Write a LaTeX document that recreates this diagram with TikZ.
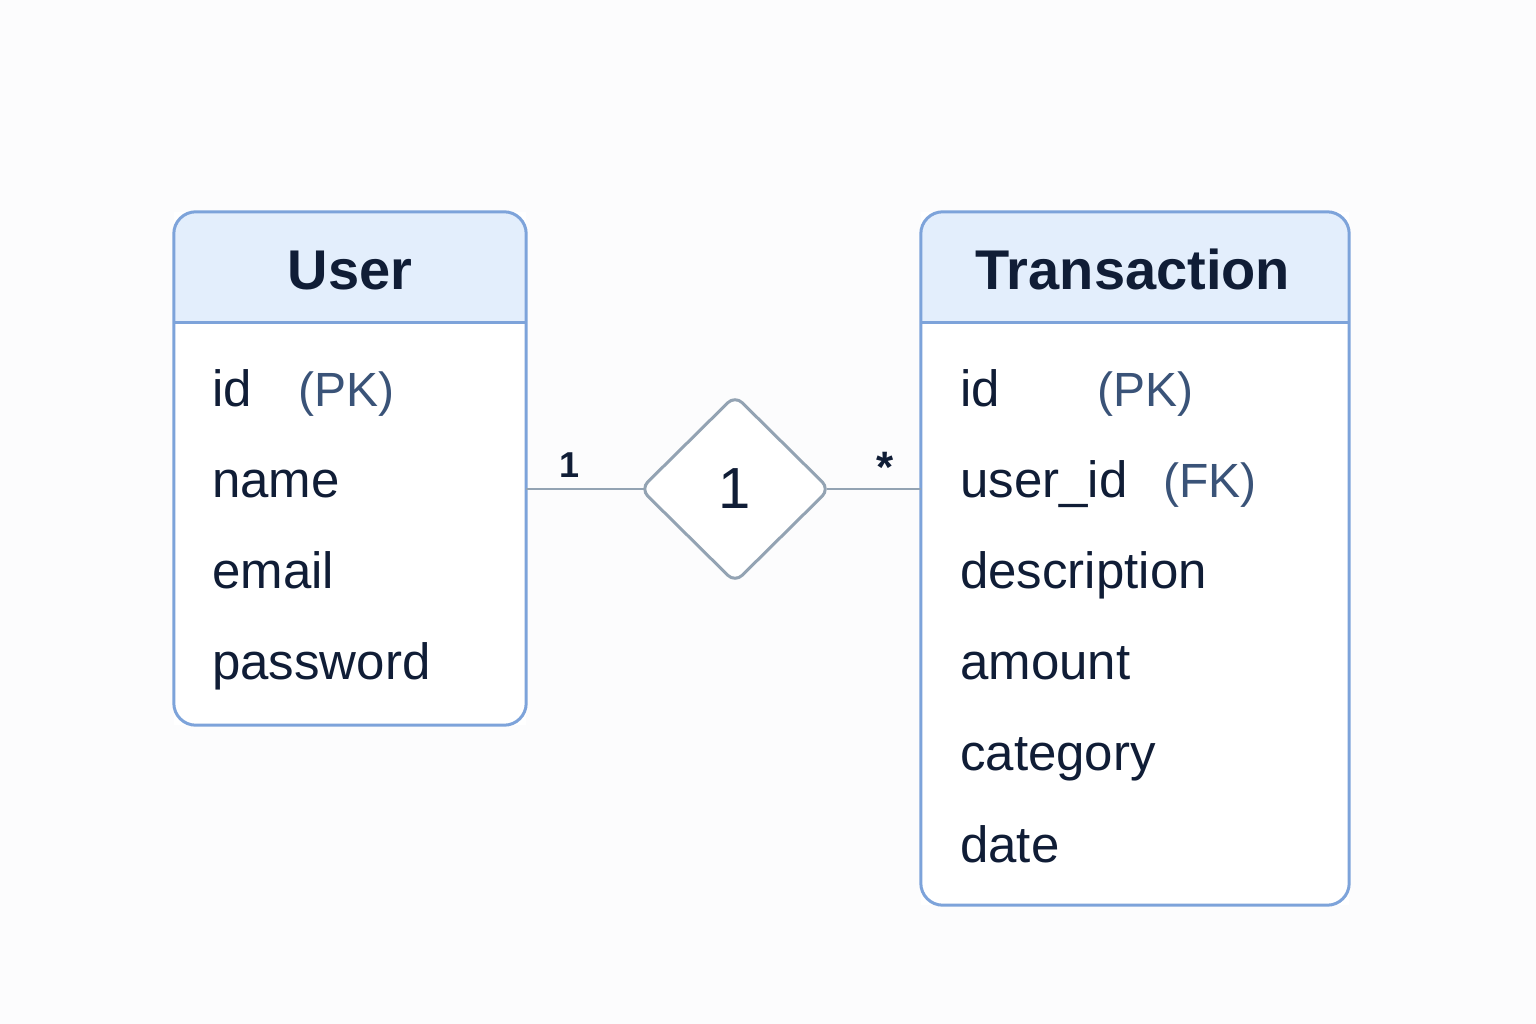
\documentclass[tikz,border=0pt]{standalone}
\usepackage{fontspec}
\setmainfont{Liberation Sans}
\usetikzlibrary{shapes.geometric, positioning, calc}

\definecolor{boxblue}{HTML}{7DA3DA}
\definecolor{headfill}{HTML}{E3EEFC}
\definecolor{inkdark}{HTML}{101D36}
\definecolor{keyblue}{HTML}{3A5378}
\definecolor{relgray}{HTML}{93A3B3}
\definecolor{paper}{HTML}{FCFCFD}

\begin{document}
\begin{tikzpicture}[
    x=1pt, y=-1pt,
    tablebox/.style={rectangle, fill=white, inner sep=0pt},
    boxline/.style={draw=boxblue, line width=3pt, rounded corners=22pt},
    title/.style={anchor=base, text=inkdark, font=\fontsize{56}{66}\selectfont\bfseries},
    field/.style={anchor=base west, inner sep=0pt, text=inkdark,
        font=\fontsize{51}{60}\selectfont},
    keytag/.style={anchor=base west, inner sep=0pt, text=keyblue,
        font=\fontsize{48}{60}\selectfont},
    relation/.style={diamond, draw=relgray, line width=3pt, fill=white,
        rounded corners=10pt, minimum width=190pt, minimum height=188pt,
        inner sep=0pt, text=inkdark, font=\fontsize{58}{66}\selectfont},
    conn/.style={draw=relgray, line width=2.5pt},
    card/.style={text=inkdark, inner sep=0pt, font=\fontsize{36}{40}\selectfont\bfseries}
]

%% Canvas
\fill[paper] (0,0) rectangle (1536,1024);
\useasboundingbox (0,0) rectangle (1536,1024);

%% Table frames
\node[tablebox, minimum width=352pt, minimum height=513pt] (user) at (350,468.5) {};
\node[tablebox, minimum width=428pt, minimum height=693pt] (trans) at (1135,558.5) {};

%% Headers
\foreach \t in {user, trans} {
    \begin{scope}
        \clip[rounded corners=22pt] (\t.north west) rectangle (\t.south east);
        \fill[headfill] (\t.north west) rectangle (\t.east |- 0,322);
    \end{scope}
    \draw[boxline] (\t.north west) rectangle (\t.south east);
    \draw[draw=boxblue, line width=3pt] (\t.west |- 0,322) -- (\t.east |- 0,322);
}

\node[title] (usertitle)  at (350,290)  {User};
\node[title] (transtitle) at (1133,290) {Transaction};

%% User fields
\foreach \f [count=\i] in {id, name, email, password}
    \node[field] (uf\i) at (212,{406+91*(\i-1)}) {\f};
\node[keytag] (upk) at (298,406) {(PK)};

%% Transaction fields
\foreach \f [count=\i] in {id, user\_id, description, amount, category, date}
    \node[field] (tf\i) at (960,{406+91.2*(\i-1)}) {\f};
\node[keytag] (tpk) at (1097,406) {(PK)};
\node[keytag] (tfk) at (1163,497) {(FK)};

%% Relationship
\node[relation] (rel) at (735,489) {1};

\draw[conn] (rel.west -| user.east) --
    node[card, pos=0.37, above=10pt] {1}
    ([xshift=5pt]rel.west);
\draw[conn] ([xshift=-5pt]rel.east) --
    node[card, pos=0.62, above=5pt, font=\fontsize{44}{48}\selectfont\bfseries] {*}
    (rel.east -| trans.west);

\end{tikzpicture}
\end{document}
